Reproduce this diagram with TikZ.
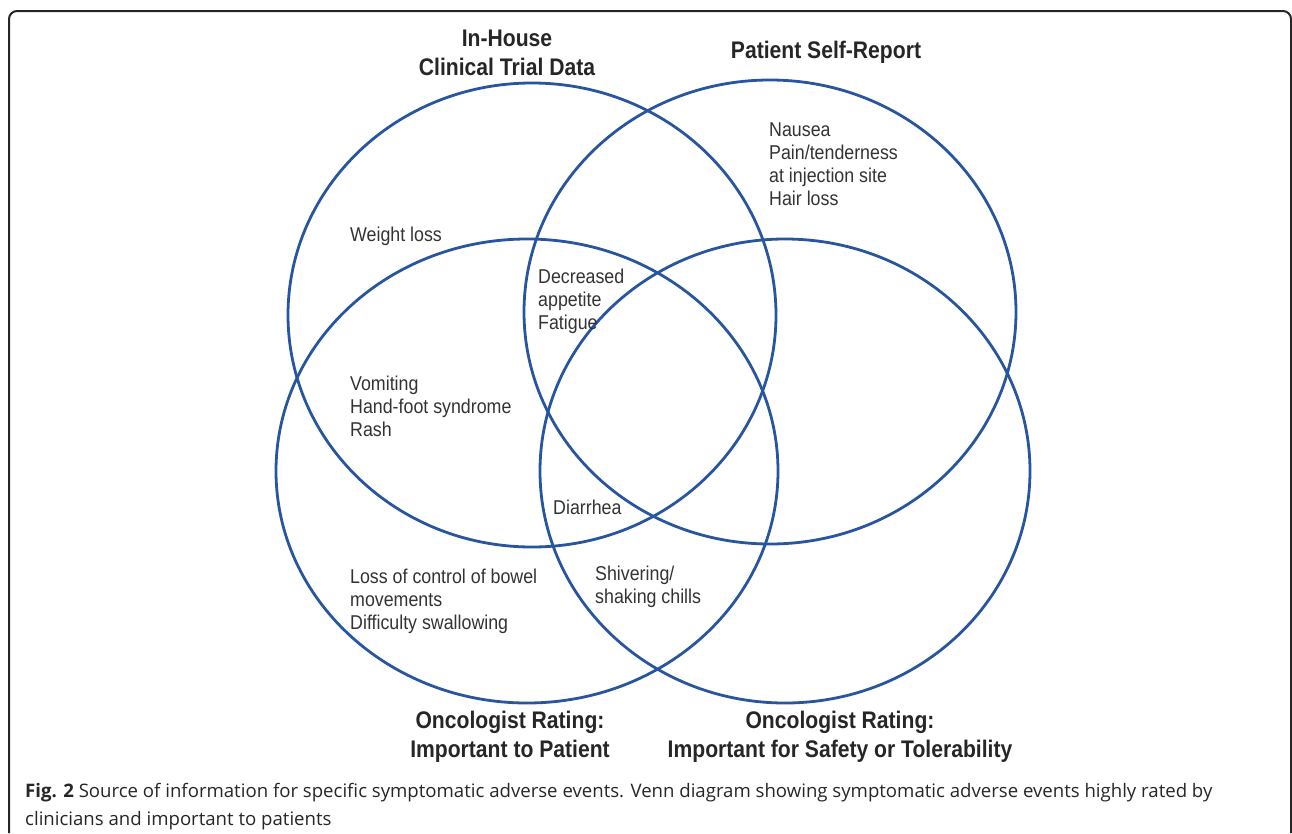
\documentclass[tikz,border=0pt]{standalone}
\usepackage{fontspec}
\setmainfont{Liberation Sans}
\newfontfamily\labelfont[FakeStretch=0.89]{Liberation Sans}
\newfontfamily\headfont[FakeStretch=0.88]{Liberation Sans}
\newfontfamily\capfont{Open Sans}
\definecolor{vennblue}{RGB}{40,86,158}

\begin{document}
\begin{tikzpicture}[x=1pt, y=-1pt,
  setline/.style={draw=vennblue, line width=2.8pt},
  heading/.style={font=\headfont\bfseries\fontsize{24}{29}\selectfont, align=center, anchor=north, inner sep=0pt, text=black!85},
  item/.style={font=\labelfont\fontsize{20}{23}\selectfont, align=left, anchor=north west, inner sep=0pt, text=black!80},
  capline/.style={font=\capfont\fontsize{18.6}{22}\selectfont, anchor=base west, inner sep=0pt, text=black!85}]
\useasboundingbox (0,0) rectangle (1292,833);
\draw[line width=2pt, black!85, rounded corners=8pt] (9,833) -- (9,11) -- (1291,11) -- (1291,833);
% the four sets
\foreach \cx/\cy/\rx in {532/315/244, 770/312/246, 527/471/251, 785/471/245}
  \draw[setline] (\cx,\cy) ellipse [x radius=\rx, y radius=232];
% set names
\node[heading] (inhouse) at (507,30) {In-House\\Clinical Trial Data};
\node[heading] (selfreport) at (826,41) {Patient Self-Report};
\node[heading] (oncpatient) at (510,711) {Oncologist Rating:\\Important to Patient};
\node[heading] (oncsafety) at (840,711) {Oncologist Rating:\\Important for Safety or Tolerability};
% adverse events
\node[item] (weight) at (350,227) {Weight loss};
\node[item] (nausea) at (769,123) {Nausea\\Pain/tenderness\\at injection site\\Hair loss};
\node[item] (appetite) at (538,269) {Decreased\\appetite\\Fatigue};
\node[item] (vomiting) at (350,376) {Vomiting\\Hand-foot syndrome\\Rash};
\node[item] (diarrhea) at (553,500) {Diarrhea};
\node[item] (bowel) at (350,569) {Loss of control of bowel\\movements\\Difficulty swallowing};
\node[item] (chills) at (595,566) {Shivering/\\shaking chills};
% caption
\node[capline] (capone) at (25,797) {\textbf{Fig. 2} Source of information for specific symptomatic adverse events. Venn diagram showing symptomatic adverse events highly rated by};
\node[capline] (captwo) at (25,825) {clinicians and important to patients};
\end{tikzpicture}
\end{document}
